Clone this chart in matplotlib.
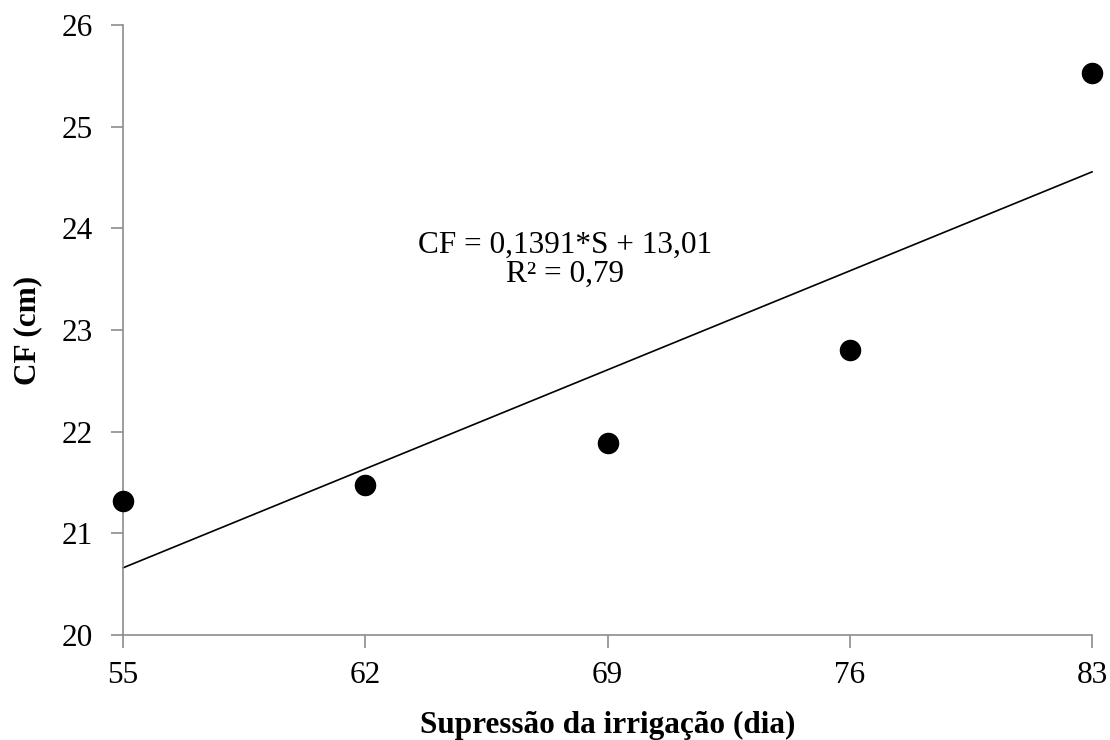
import matplotlib
matplotlib.use("Agg")
import matplotlib.pyplot as plt
import numpy as np

# dados
dias = [55, 62, 69, 76, 83]
cf = [21.32, 21.48, 21.89, 22.80, 25.53]
# coeficientes da reta ajustada (texto do gráfico)
coef_a = 0.1391
coef_b = 13.01
xticks = [55, 62, 69, 76, 83]
yticks = [20, 21, 22, 23, 24, 25, 26]

plt.rcParams['font.family'] = ['Liberation Serif', 'DejaVu Serif']
fs = 22.5

fig = plt.figure(figsize=(11.1, 7.4), dpi=100)
ax = fig.add_axes([0.1108, 0.1419, 0.8730, 0.8243])

xs = np.array([dias[0], dias[-1]])
ax.plot(xs, coef_a * xs + coef_b, color='black', lw=1.2, clip_on=False)
ax.scatter(dias, cf, s=210, color='black', zorder=3, clip_on=False)

ax.set_xlim(55, 83)
ax.set_ylim(20, 26)
ax.set_xticks(xticks)
ax.set_yticks(yticks)

for s in ['top', 'right']:
    ax.spines[s].set_visible(False)
for s in ['left', 'bottom']:
    ax.spines[s].set_color('#8c8c8c')
    ax.spines[s].set_linewidth(1.2)
ax.tick_params(direction='out', length=9, width=1.2, color='#8c8c8c',
               labelsize=fs)
ax.tick_params(axis='x', pad=10)
ax.tick_params(axis='y', pad=13)

ax.set_xlabel('Supressão da irrigação (dia)', fontsize=fs, fontweight='bold', labelpad=15)
ax.set_ylabel('CF (cm)', fontsize=fs, fontweight='bold', labelpad=14)

ax.text(67.77, 23.69, 'CF = 0,1391*S + 13,01\nR² = 0,79', fontsize=fs,
        ha='center', va='center', linespacing=1.0)

fig.savefig('out.png', dpi=100)
